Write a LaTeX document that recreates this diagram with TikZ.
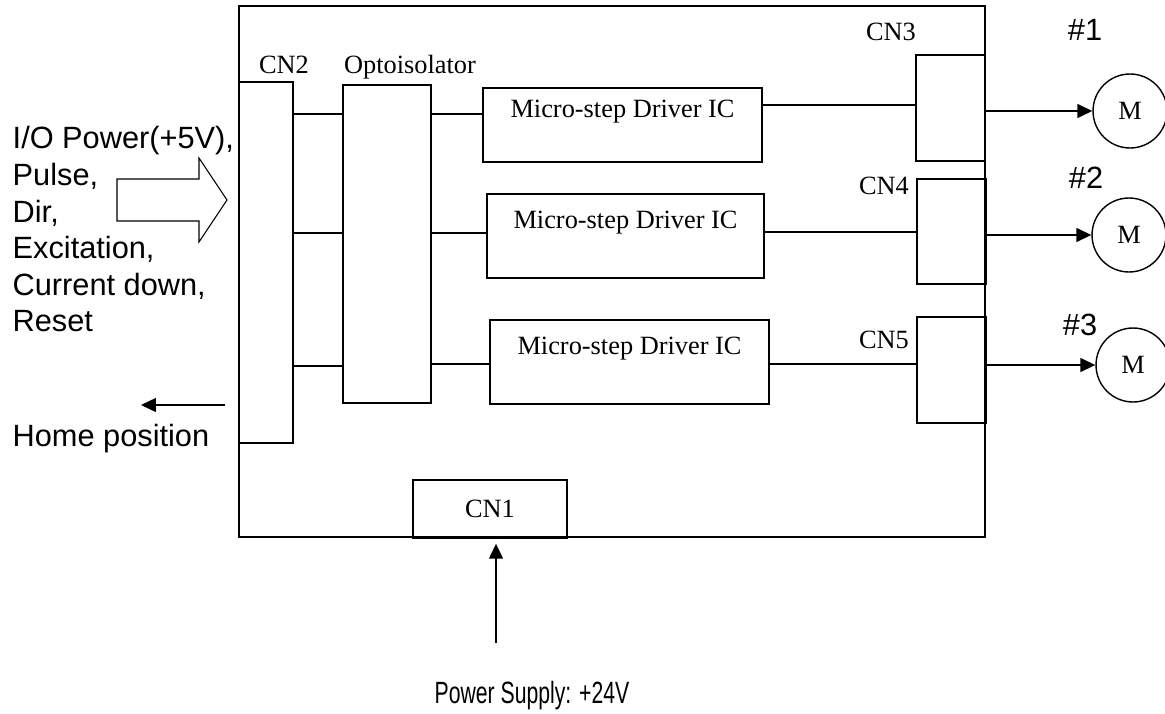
\documentclass[tikz,border=0pt]{standalone}
\usepackage{fontspec}
\setmainfont{Liberation Serif}
\setsansfont{Liberation Sans}
\usetikzlibrary{arrows.meta}

\begin{document}
\begin{tikzpicture}[x=0.02cm, y=-0.02cm, line width=0.8pt,
  box/.style={draw, inner sep=0pt},
  ser/.style={font=\fontsize{15}{18}\selectfont},
  san/.style={font=\sffamily\fontsize{17.5}{20.8}\selectfont},
  tip/.style={-{Triangle[length=0.3cm, width=0.28cm]}}]
\useasboundingbox (0,0) rectangle (1165,713);

\node[box, minimum width=14.92cm, minimum height=10.62cm] at (612,271.5) (board) {};
\node[box, minimum width=1.08cm, minimum height=7.22cm] at (266,262.5) (cn2) {};
\node[box, minimum width=1.76cm, minimum height=6.36cm] at (387,244) (opto) {};
\node[box, ser, align=center, minimum width=5.58cm, minimum height=1.48cm] at (622.5,125) (drv1) {Micro-step Driver IC\\~};
\node[box, ser, align=center, minimum width=5.54cm, minimum height=1.68cm] at (625.5,236) (drv2) {Micro-step Driver IC\\~};
\node[box, ser, align=center, minimum width=5.58cm, minimum height=1.68cm] at (629.5,362) (drv3) {Micro-step Driver IC\\~};
\node[box, minimum width=1.38cm, minimum height=2.12cm] at (950.5,108) (cn3) {};
\node[box, minimum width=1.38cm, minimum height=2.10cm] at (951.5,231.5) (cn4) {};
\node[box, minimum width=1.38cm, minimum height=2.12cm] at (951.5,370) (cn5) {};
\node[box, ser, minimum width=3.08cm, minimum height=1.16cm] at (490,509) (cn1) {CN1};

\node[ser, anchor=base] at (284,73) (cn2lbl) {CN2};
\node[ser, anchor=base] at (410,73) (optolbl) {Optoisolator};
\node[ser, anchor=base] at (891,41) (cn3lbl) {CN3};
\node[ser, anchor=base] at (884,194) (cn4lbl) {CN4};
\node[ser, anchor=base] at (884,348) (cn5lbl) {CN5};

\node[draw, circle, ser, inner sep=0pt, minimum size=1.48cm] at (1130,111) (m1) {M};
\node[draw, circle, ser, inner sep=0pt, minimum size=1.48cm] at (1129,235) (m2) {M};
\node[draw, circle, ser, inner sep=0pt, minimum size=1.48cm] at (1133,365) (m3) {M};
\node[san, anchor=base] at (1085,41) (no1) {\#1};
\node[san, anchor=base] at (1086,188) (no2) {\#2};
\node[san, anchor=base] at (1080,335) (no3) {\#3};

\node[san, align=left, anchor=north west, inner sep=0pt] at (12,126) (inputs) {I/O Power(+5V),\\Pulse,\\Dir,\\Excitation,\\Current down,\\Reset};
\node[san, anchor=base west, inner sep=0pt] at (12,446) (homelbl) {Home position};
\node[san, anchor=base] at (532,703) (psulbl) {\scalebox{0.69}[1]{Power Supply: +24V}};

% inputs
\draw[line width=0.6pt] (117,179) -- (199,179) -- (199,158) -- (227,200) -- (199,242) -- (199,221) -- (117,221) -- cycle;
\coordinate (home) at (141,405);
\draw[tip, shorten <=0.26cm] (board.west |- home) -- (home);

% channels
\draw (cn2.east |- 0,114) -- (opto.west |- 0,114);
\draw (cn2.east |- 0,233) -- (opto.west |- 0,233);
\draw (cn2.east |- 0,366) -- (opto.west |- 0,366);
\draw (opto.east |- 0,114) -- (drv1.west |- 0,114);
\draw (opto.east |- 0,233) -- (drv2.west |- 0,233);
\draw (opto.east |- 0,364) -- (drv3.west |- 0,364);
\draw (drv1.east |- 0,105) -- (cn3.west |- 0,105);
\draw (drv2.east |- 0,232) -- (cn4.west |- 0,232);
\draw (drv3.east |- 0,364) -- (cn5.west |- 0,364);
\draw[tip] (cn3.east |- m1) -- (m1);
\draw[tip] (cn4.east |- m2) -- (m2);
\draw[tip] (cn5.east |- m3) -- (m3);

% power
\coordinate (psu) at (496,643);
\draw[tip, shorten >=0.1cm] (psu) -- (psu |- cn1.south);
\end{tikzpicture}
\end{document}
